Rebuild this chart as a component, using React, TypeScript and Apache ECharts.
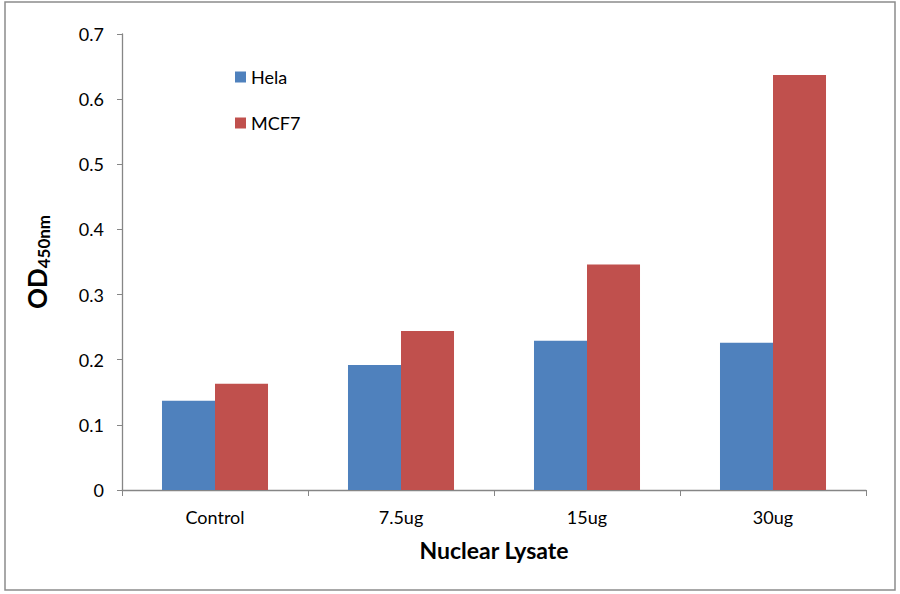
import React, { useEffect, useRef } from "react";
import * as echarts from "echarts";

const categories = ["Control", "7.5ug", "15ug", "30ug"];
const helaValues = [0.137, 0.192, 0.229, 0.226];
const mcf7Values = [0.163, 0.244, 0.346, 0.637];
const yTicks = [0, 0.1, 0.2, 0.3, 0.4, 0.5, 0.6, 0.7];

const FONT = "Lato, 'Open Sans', sans-serif";

export default function App() {
  const ref = useRef<HTMLDivElement>(null);
  useEffect(() => {
    document.body.style.margin = "0";
    const chart = echarts.init(ref.current!, null, { renderer: "svg" });
    chart.setOption({
      animation: false,
      backgroundColor: "#ffffff",
      textStyle: { fontFamily: FONT },
      graphic: [
        {
          type: "rect",
          shape: { x: 5, y: 2, width: 890, height: 588 },
          style: { fill: "none", stroke: "#8c8c8c", lineWidth: 1.5 },
          silent: true,
        },
      ],
      grid: { left: 122, right: 34, top: 34, bottom: 104, containLabel: false },
      legend: {
        orient: "vertical",
        left: 230,
        top: 63,
        itemWidth: 11,
        itemHeight: 11,
        itemGap: 28,
        icon: "rect",
        textStyle: { fontFamily: FONT, fontSize: 18, color: "#000" },
        data: ["Hela", "MCF7"],
      },
      xAxis: {
        type: "category",
        data: categories,
        name: "Nuclear Lysate",
        nameLocation: "middle",
        nameGap: 48,
        nameTextStyle: { fontFamily: FONT, fontSize: 23, fontWeight: "bold", color: "#000" },
        axisLine: { lineStyle: { color: "#868686", width: 1.3 } },
        axisTick: { show: true, alignWithLabel: false, length: 6, lineStyle: { color: "#868686" } },
        axisLabel: { fontFamily: FONT, fontSize: 18, color: "#000", margin: 18 },
      },
      yAxis: {
        type: "value",
        min: 0,
        max: 0.7,
        interval: 0.1,
        name: "{a|OD}{b|450nm}",
        nameLocation: "middle",
        nameGap: 70,
        nameRotate: 90,
        nameTextStyle: {
          rich: {
            a: { fontFamily: FONT, fontSize: 26, fontWeight: "bold", color: "#000" },
            b: { fontFamily: FONT, fontSize: 17, fontWeight: "bold", color: "#000", verticalAlign: "top", padding: [14, 0, 0, 0] },
          },
        },
        splitLine: { show: false },
        axisLine: { show: true, lineStyle: { color: "#868686", width: 1.3 } },
        axisTick: { show: true, length: 5, lineStyle: { color: "#868686" } },
        axisLabel: {
          fontFamily: FONT,
          fontSize: 18,
          color: "#000",
          margin: 18,
          formatter: (v: number) => {
            const t = yTicks.find((x) => Math.abs(x - v) < 1e-9);
            return t === undefined ? "" : String(t);
          },
        },
      },
      series: [
        {
          name: "Hela",
          type: "bar",
          data: helaValues,
          barGap: "0%",
          barCategoryGap: "43%",
          itemStyle: { color: "#4f81bd" },
        },
        {
          name: "MCF7",
          type: "bar",
          data: mcf7Values,
          barGap: "0%",
          barCategoryGap: "43%",
          itemStyle: { color: "#c0504d" },
        },
      ],
    });
    return () => chart.dispose();
  }, []);
  return <div ref={ref} style={{ width: 900, height: 594 }} />;
}
